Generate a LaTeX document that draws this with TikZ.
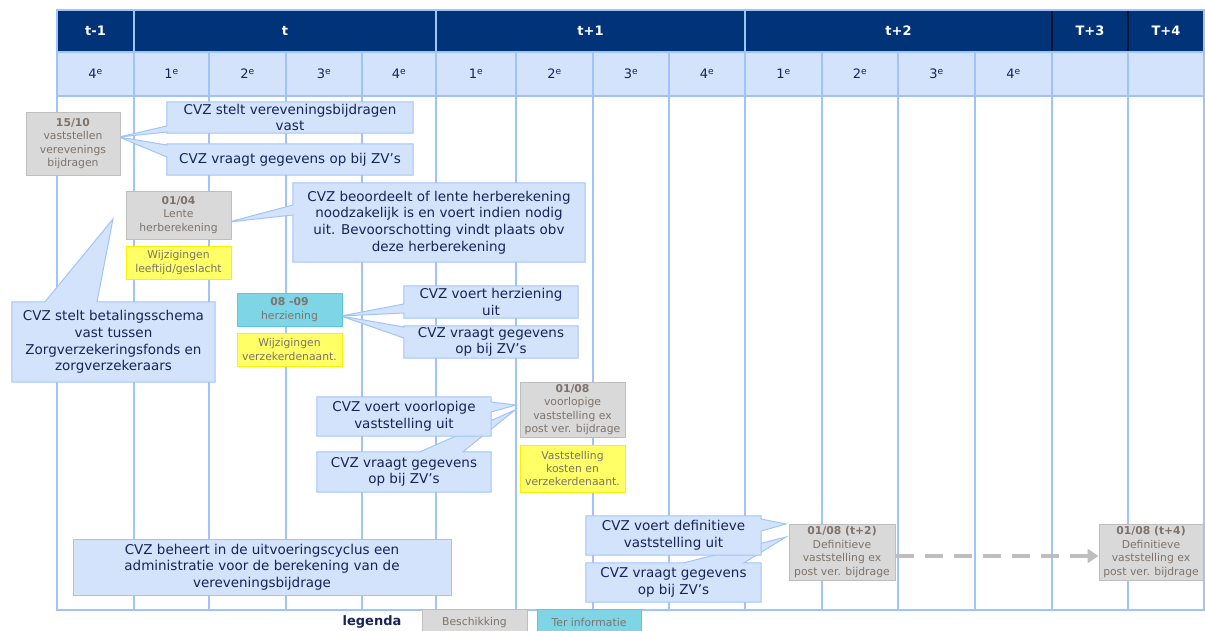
\documentclass[tikz,border=0pt]{standalone}
\usepackage{fontspec}
\setmainfont{DejaVu Sans}
\usepackage{xcolor}
\usetikzlibrary{positioning, arrows.meta, backgrounds}

\definecolor{Navy}{RGB}{0,51,120}
\definecolor{PaleBlue}{RGB}{212,227,252}
\definecolor{GridBlue}{RGB}{160,196,250}
\definecolor{InkBlue}{RGB}{22,36,88}
\definecolor{BoxGray}{RGB}{217,217,217}
\definecolor{BoxLine}{RGB}{190,190,190}
\definecolor{BoxText}{RGB}{125,115,108}
\definecolor{NoteYellow}{RGB}{255,255,102}
\definecolor{NoteLine}{RGB}{250,240,0}
\definecolor{InfoCyan}{RGB}{126,213,230}
\definecolor{InfoLine}{RGB}{92,198,220}
\definecolor{ArrowGray}{RGB}{190,190,190}

\begin{document}
\begin{tikzpicture}[
  x=1pt, y=-1pt,
  grid/.style={GridBlue, line width=1.2pt},
  year/.style={text=white, font=\fontsize{13}{15}\selectfont\bfseries},
  quarter/.style={text=InkBlue, font=\fontsize{13}{15}\selectfont},
  smallbox/.style={draw, line width=1pt, align=center, inner sep=0pt, text=BoxText, font=\fontsize{10.8}{13.4}\selectfont},
  beschikking/.style={smallbox, fill=BoxGray, draw=BoxLine},
  info/.style={smallbox, fill=InfoCyan, draw=InfoLine},
  wijziging/.style={smallbox, fill=NoteYellow, draw=NoteLine},
  cvz/.style={align=center, inner sep=0pt, text=InkBlue, font=\fontsize{13.5}{16.7}\selectfont},
  balloon/.style={fill=PaleBlue, draw=GridBlue, line width=1pt, line join=miter}
]
\useasboundingbox (0,0) rectangle (1205,630);
\clip (0,0) rectangle (1205,630);

% Time axis
\begin{pgfonlayer}{background}
\fill[Navy] (57,10) rectangle (1204,52);
\fill[PaleBlue] (57,52) rectangle (1204,96);
\foreach \x in {134,209,286,362,436,516,593,669,745,822,898,975,1052,1128}
  \draw[grid] (\x,52) -- (\x,610);
\foreach \x in {134,436,745}
  \draw[grid] (\x,10) -- (\x,52);
\foreach \x in {1052,1128}
  \draw[line width=1.2pt, black!60!Navy] (\x,10) -- (\x,52);
\draw[grid] (57,52) -- (1204,52) (57,96) -- (1204,96);
\draw[grid] (57,10) rectangle (1204,610);
\end{pgfonlayer}

\node[year] (yprev) at (95.5,31) {t-1};
\node[year] (ycur) at (285,31) {t};
\node[year] (ynext) at (590.5,31) {t+1};
\node[year] (ynexttwo) at (898.5,31) {t+2};
\node[year] (ythree) at (1090,31) {T+3};
\node[year] (yfour) at (1166,31) {T+4};
\foreach \xa/\xb/\q [count=\i] in {57/134/4, 134/209/1, 209/286/2, 286/362/3, 362/436/4,
    436/516/1, 516/593/2, 593/669/3, 669/745/4, 745/822/1, 822/898/2, 898/975/3, 975/1052/4}
  \node[quarter] (q\i) at ({(\xa+\xb)/2},74) {\q\textsuperscript{e}};

% Beschikkingen and wijzigingen
\node[beschikking, minimum width=94pt, minimum height=63pt] (vast1510) at (73,143.5) {\textbf{15/10}\\vaststellen\\verevenings\\bijdragen};
\node[beschikking, minimum width=105pt, minimum height=48pt] (lente) at (178.5,215) {\textbf{01/04}\\Lente\\herberekening};
\node[wijziging, minimum width=105pt, minimum height=33pt] (wijzlente) at (178.5,262.5) {Wijzigingen\\leeftijd/geslacht};
\node[info, minimum width=105pt, minimum height=33pt] (herziening) at (289.5,309.5) {\textbf{08 -09}\\herziening};
\node[wijziging, minimum width=105pt, minimum height=33pt] (wijzherz) at (289.5,349.5) {Wijzigingen\\verzekerdenaant.};
\node[beschikking, minimum width=105pt, minimum height=55pt] (voorlopig) at (572.5,409.5) {\textbf{01/08}\\voorlopige\\vaststelling ex\\post ver. bijdrage};
\node[wijziging, minimum width=105pt, minimum height=47pt] (kosten) at (572.5,468.5) {Vaststelling\\kosten en\\verzekerdenaant.};
\node[beschikking, minimum width=106pt, minimum height=56pt] (defttwo) at (842,552) {\textbf{01/08 (t+2)}\\Definitieve\\vaststelling ex\\post ver. bijdrage};
\node[beschikking, minimum width=104pt, minimum height=56pt] (deftfour) at (1151,552) {\textbf{01/08 (t+4)}\\Definitieve\\vaststelling ex\\post ver. bijdrage};

% Pointer tips
\coordinate (tip1510) at (119,137);
\coordinate (tiplente) at (229,222);
\coordinate (tipschema) at (113,219);
\coordinate (tipherz) at (341,316);
\coordinate (tipvoorla) at (516,405);
\coordinate (tipvoorlb) at (515,410);
\coordinate (tipdefa) at (786,524);
\coordinate (tipdefb) at (786,537);

% CVZ actions
\node[cvz, minimum width=246pt, minimum height=31pt] (stelt) at (290,117.5) {CVZ stelt vereveningsbijdragen\\vast};
\node[cvz, minimum width=246pt, minimum height=31pt] (vraagt) at (290,159.5) {CVZ vraagt gegevens op bij ZV’s};
\node[cvz, minimum width=292pt, minimum height=79pt] (beoordeelt) at (439,222.5) {CVZ beoordeelt of lente herberekening\\noodzakelijk is en voert indien nodig\\uit. Bevoorschotting vindt plaats obv\\deze herberekening};
\node[cvz, minimum width=203pt, minimum height=80pt] (schema) at (113.5,342) {CVZ stelt betalingsschema\\vast tussen\\Zorgverzekeringsfonds en\\zorgverzekeraars};
\node[cvz, minimum width=174pt, minimum height=32pt] (voertherz) at (491,302) {CVZ voert herziening\\uit};
\node[cvz, minimum width=174pt, minimum height=32pt] (vraagtherz) at (491,342) {CVZ vraagt gegevens\\op bij ZV’s};
\node[cvz, minimum width=174pt, minimum height=39pt] (voertvoorl) at (404,416.5) {CVZ voert voorlopige\\vaststelling uit};
\node[cvz, minimum width=174pt, minimum height=40pt] (vraagtvoorl) at (404,472) {CVZ vraagt gegevens\\op bij ZV’s};
\node[cvz, minimum width=175pt, minimum height=39pt] (voertdef) at (673.5,535.5) {CVZ voert definitieve\\vaststelling uit};
\node[cvz, minimum width=175pt, minimum height=39pt] (vraagtdef) at (673.5,582.5) {CVZ vraagt gegevens\\op bij ZV’s};
\node[cvz, balloon, minimum width=378pt, minimum height=56pt] (beheert) at (262,567) {CVZ beheert in de uitvoeringscyclus een\\administratie voor de berekening van de\\vereveningsbijdrage};

% Balloons
\begin{pgfonlayer}{background}
\draw[balloon] (stelt.north west) -- (stelt.north east) -- (stelt.south east) -- (stelt.south west)
  -- (stelt.west |- 0,132) -- (tip1510) -- (stelt.west |- 0,126) -- cycle;
\draw[balloon] (vraagt.north west) -- (vraagt.north east) -- (vraagt.south east) -- (vraagt.south west)
  -- (vraagt.west |- 0,157) -- (tip1510) -- (vraagt.west |- 0,145) -- cycle;
\draw[balloon] (beoordeelt.north west) -- (beoordeelt.north east) -- (beoordeelt.south east) -- (beoordeelt.south west)
  -- (beoordeelt.west |- 0,215) -- (tiplente) -- (beoordeelt.west |- 0,205) -- cycle;
\draw[balloon] (schema.north west) -- (45,0 |- schema.north) -- (tipschema) -- (97,0 |- schema.north)
  -- (schema.north east) -- (schema.south east) -- (schema.south west) -- cycle;
\draw[balloon] (voertherz.north west) -- (voertherz.north east) -- (voertherz.south east) -- (voertherz.south west)
  -- (voertherz.west |- 0,313) -- (tipherz) -- (voertherz.west |- 0,304) -- cycle;
\draw[balloon] (vraagtherz.north west) -- (vraagtherz.north east) -- (vraagtherz.south east) -- (vraagtherz.south west)
  -- (vraagtherz.west |- 0,338) -- (tipherz) -- (vraagtherz.west |- 0,327) -- cycle;
\draw[balloon] (vraagtvoorl.north west) -- (420,0 |- vraagtvoorl.north) -- (tipvoorlb) -- (463,0 |- vraagtvoorl.north)
  -- (vraagtvoorl.north east) -- (vraagtvoorl.south east) -- (vraagtvoorl.south west) -- cycle;
\draw[balloon] (voertvoorl.north west) -- (voertvoorl.north east) -- (voertvoorl.east |- 0,402) -- (tipvoorla)
  -- (voertvoorl.east |- 0,412) -- (voertvoorl.south east) -- (voertvoorl.south west) -- cycle;
\draw[balloon] (vraagtdef.north west) -- (684,0 |- vraagtdef.north) -- (tipdefb) -- (744,0 |- vraagtdef.north)
  -- (vraagtdef.north east) -- (vraagtdef.south east) -- (vraagtdef.south west) -- cycle;
\draw[balloon] (voertdef.north west) -- (voertdef.north east) -- (voertdef.east |- 0,519) -- (tipdefa)
  -- (voertdef.east |- 0,531) -- (voertdef.south east) -- (voertdef.south west) -- cycle;
\end{pgfonlayer}

% Definitive step
\draw[ArrowGray, line width=4.5pt, dash pattern=on 18pt off 11pt, -{Triangle[length=11pt, width=14pt]}]
  ([yshift=-4pt]defttwo.east) -- ([yshift=-4pt]deftfour.west);

% Legend
\node[text=InkBlue, font=\fontsize{13}{15}\selectfont\bfseries] (legenda) at (372,622) {legenda};
\node[beschikking, minimum width=105pt, minimum height=27pt] (legbesch) at (474.5,622.5) {Beschikking};
\node[info, minimum width=104pt, minimum height=27pt] (leginfo) at (589,622.5) {Ter informatie};

\end{tikzpicture}
\end{document}
